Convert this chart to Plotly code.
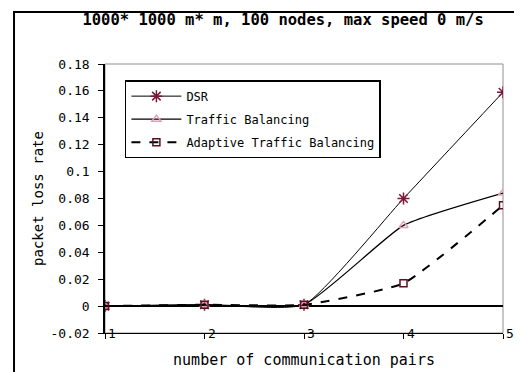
import plotly.graph_objects as go

pairs = [1, 2, 3, 4, 5]
dsr = [0.0, 0.001, 0.001, 0.080, 0.159]
traffic_bal = [0.0, 0.001, 0.001, 0.060, 0.084]
adaptive_bal = [0.0, 0.001, 0.001, 0.017, 0.075]
x_tick_text = ["1", "2", "3", "4", "5"]
y_ticks = [-0.02, 0, 0.02, 0.04, 0.06, 0.08, 0.1, 0.12, 0.14, 0.16, 0.18]
y_tick_text = ["-0.02", "0", "0.02", "0.04", "0.06", "0.08", "0.1", "0.12", "0.14", "0.16", "0.18"]

MONO = "DejaVu Sans Mono"

fig = go.Figure()
fig.add_trace(go.Scatter(
    x=pairs, y=dsr, name="DSR", mode="lines+markers",
    line=dict(color="black", width=1, shape="spline", smoothing=0.45),
    marker=dict(symbol="asterisk-open", size=10, color="#7a1838", line=dict(color="#7a1838", width=1.5)),
    legendgroup="a"))
fig.add_trace(go.Scatter(
    x=pairs, y=traffic_bal, name="Traffic Balancing", mode="lines+markers",
    line=dict(color="black", width=1.3, shape="spline", smoothing=0.45),
    marker=dict(symbol="triangle-up-open", size=8, color="#e2a0b4", line=dict(color="#e2a0b4", width=1.5)),
    legendgroup="b"))
fig.add_trace(go.Scatter(
    x=pairs, y=adaptive_bal, name="Adaptive Traffic Balancing", mode="lines+markers",
    line=dict(color="black", width=2, dash="dash", shape="spline", smoothing=0.45),
    marker=dict(symbol="square-open", size=7, color="#5a1020", line=dict(color="#5a1020", width=1.5)),
    legendgroup="c"))

# x tick labels drawn next to the tick marks, level with the axis line (as in the reference)
annotations = [
    dict(x=p, y=y_ticks[0], xref="x", yref="y", text=t, showarrow=False,
         xanchor="left", yanchor="middle", xshift=1,
         font=dict(family=MONO, size=13, color="black"))
    for p, t in zip(pairs, x_tick_text)
]

fig.update_layout(
    width=522, height=372,
    margin=dict(l=97, r=27, t=56, b=47, autoexpand=False),
    paper_bgcolor="white", plot_bgcolor="white",
    font=dict(family=MONO, color="black"),
    title=dict(text="<b>1000* 1000 m* m, 100 nodes, max speed 0 m/s</b>",
               x=0.527, xanchor="center", xref="container",
               y=0.968, yanchor="middle", yref="container",
               font=dict(family=MONO, size=15.5, color="black")),
    showlegend=True,
    legend=dict(x=0.05, y=0.94, xanchor="left", yanchor="top",
                bordercolor="black", borderwidth=1.5, bgcolor="white",
                font=dict(family=MONO, size=12, color="black"),
                tracegroupgap=4, itemwidth=50),
    xaxis=dict(range=[1, 5], tickvals=pairs, showticklabels=False,
               automargin=False,
               showgrid=False, zeroline=False, showline=True, linecolor="black", linewidth=1,
               ticks="outside", ticklen=5, tickcolor="black",
               title=dict(text="number of communication pairs", font=dict(family=MONO, size=15), standoff=16)),
    yaxis=dict(range=[-0.02, 0.18], tickvals=y_ticks, ticktext=y_tick_text,
               automargin=False,
               showgrid=False, zeroline=True, zerolinecolor="black", zerolinewidth=1.5,
               showline=True, linecolor="black", linewidth=1.5,
               ticks="outside", ticklen=5, tickcolor="black", ticklabelstandoff=6,
               tickfont=dict(family=MONO, size=13),
               title=dict(text="packet loss rate", font=dict(family=MONO, size=14), standoff=4)),
    annotations=annotations,
    shapes=[
        dict(type="rect", xref="paper", yref="paper", x0=0, x1=1, y0=0, y1=1,
             line=dict(color="#909090", width=1), layer="below"),
        dict(type="rect", xref="paper", yref="paper", x0=-0.2286, x1=1.12, y0=-0.25, y1=1.193,
             line=dict(color="black", width=2), layer="below"),
    ],
)

fig.write_html("out.html")
